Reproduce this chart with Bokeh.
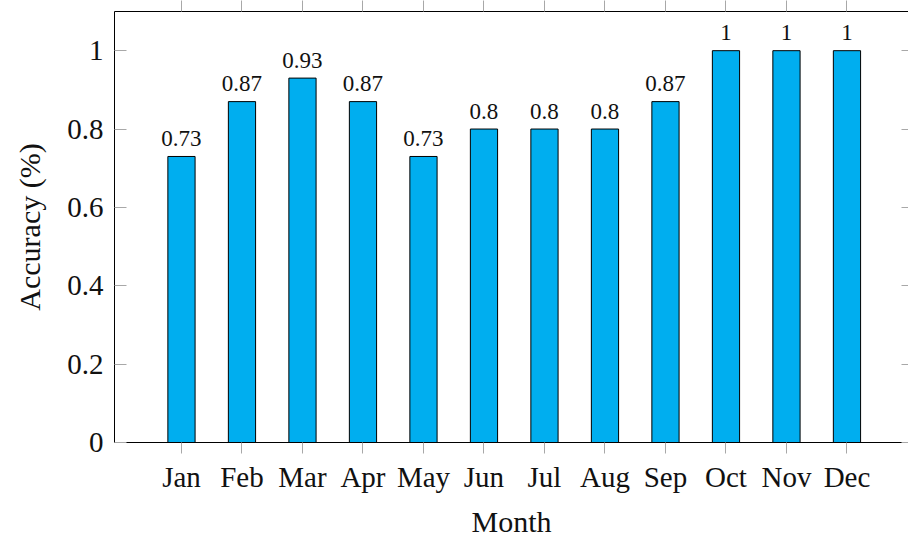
from bokeh.plotting import figure
from bokeh.models import Range1d, LinearAxis, FixedTicker, ColumnDataSource
from bokeh.embed import file_html
from bokeh.resources import INLINE
from bokeh.core.properties import value

months = ["Jan", "Feb", "Mar", "Apr", "May", "Jun", "Jul", "Aug", "Sep", "Oct", "Nov", "Dec"]
accuracy = [0.73, 0.87, 0.93, 0.87, 0.73, 0.8, 0.8, 0.8, 0.87, 1, 1, 1]
value_labels = ["0.73", "0.87", "0.93", "0.87", "0.73", "0.8", "0.8", "0.8", "0.87", "1", "1", "1"]
y_ticks = [0, 0.2, 0.4, 0.6, 0.8, 1]
y_tick_labels = ["0", "0.2", "0.4", "0.6", "0.8", "1"]

FONT = "Liberation Serif"
TICK_COLOR = "#A8A8A8"

idx = list(range(len(months)))
src = ColumnDataSource(dict(x=idx, top=accuracy, label=value_labels))

p = figure(width=908, height=540, x_range=Range1d(-1.107, 12.017), y_range=Range1d(0, 1.1),
           output_backend="svg", toolbar_location=None,
           min_border_left=114, min_border_right=0, min_border_top=11, min_border_bottom=20,
           x_axis_location=None, y_axis_location=None)
p.outline_line_color = None
p.xgrid.visible = False
p.ygrid.visible = False
p.background_fill_color = "white"
p.border_fill_color = "white"

p.vbar(x="x", top="top", bottom=0, width=0.45, source=src,
       fill_color="#00AEEF", line_color="black", line_width=1)
p.text(x="x", y="top", text="label", source=src, text_font=value(FONT),
       text_font_size="23px", text_align="center", text_baseline="alphabetic",
       y_offset=-18, text_color="#111111")

def style(ax):
    ax.axis_line_color = "black"
    ax.axis_line_width = 1
    ax.major_tick_line_color = TICK_COLOR
    ax.major_tick_line_width = 1
    ax.minor_tick_line_color = TICK_COLOR
    ax.minor_tick_line_width = 1
    ax.major_label_text_font = FONT
    ax.major_label_text_color = "#111111"
    ax.axis_label_text_font = FONT
    ax.axis_label_text_font_style = "normal"
    ax.axis_label_text_color = "#111111"

bottom = LinearAxis(ticker=FixedTicker(ticks=idx),
                    major_label_overrides={i: m for i, m in zip(idx, months)})
style(bottom)
bottom.major_tick_in = 0
bottom.major_tick_out = 11
bottom.minor_tick_line_color = None
bottom.major_label_text_font_size = "29px"
bottom.major_label_standoff = 7
bottom.axis_label = "Month"
bottom.axis_label_text_font_size = "30px"
bottom.axis_label_standoff = 9
p.add_layout(bottom, "below")

left = LinearAxis(ticker=FixedTicker(ticks=y_ticks),
                  major_label_overrides={t: s for t, s in zip(y_ticks, y_tick_labels)})
style(left)
left.major_tick_in = 12
left.major_tick_out = 0
left.minor_tick_line_color = None
left.major_label_text_font_size = "29px"
left.major_label_standoff = 11
left.axis_label = "Accuracy (%)"
left.axis_label_text_font_size = "30px"
left.axis_label_standoff = 18
p.add_layout(left, "left")

# top: tick marks only (drawn as minor ticks, so no labels)
top = LinearAxis(ticker=FixedTicker(ticks=[], minor_ticks=idx))
style(top)
top.minor_tick_in = 0
top.minor_tick_out = 11
top.major_label_standoff = 0
p.add_layout(top, "above")

# right: inward tick marks only
right = LinearAxis(ticker=FixedTicker(ticks=[], minor_ticks=y_ticks))
style(right)
right.axis_line_color = None
right.minor_tick_in = 7
right.minor_tick_out = 0
right.major_label_standoff = 0
p.add_layout(right, "right")

open("out.html", "w").write(file_html(p, INLINE))
